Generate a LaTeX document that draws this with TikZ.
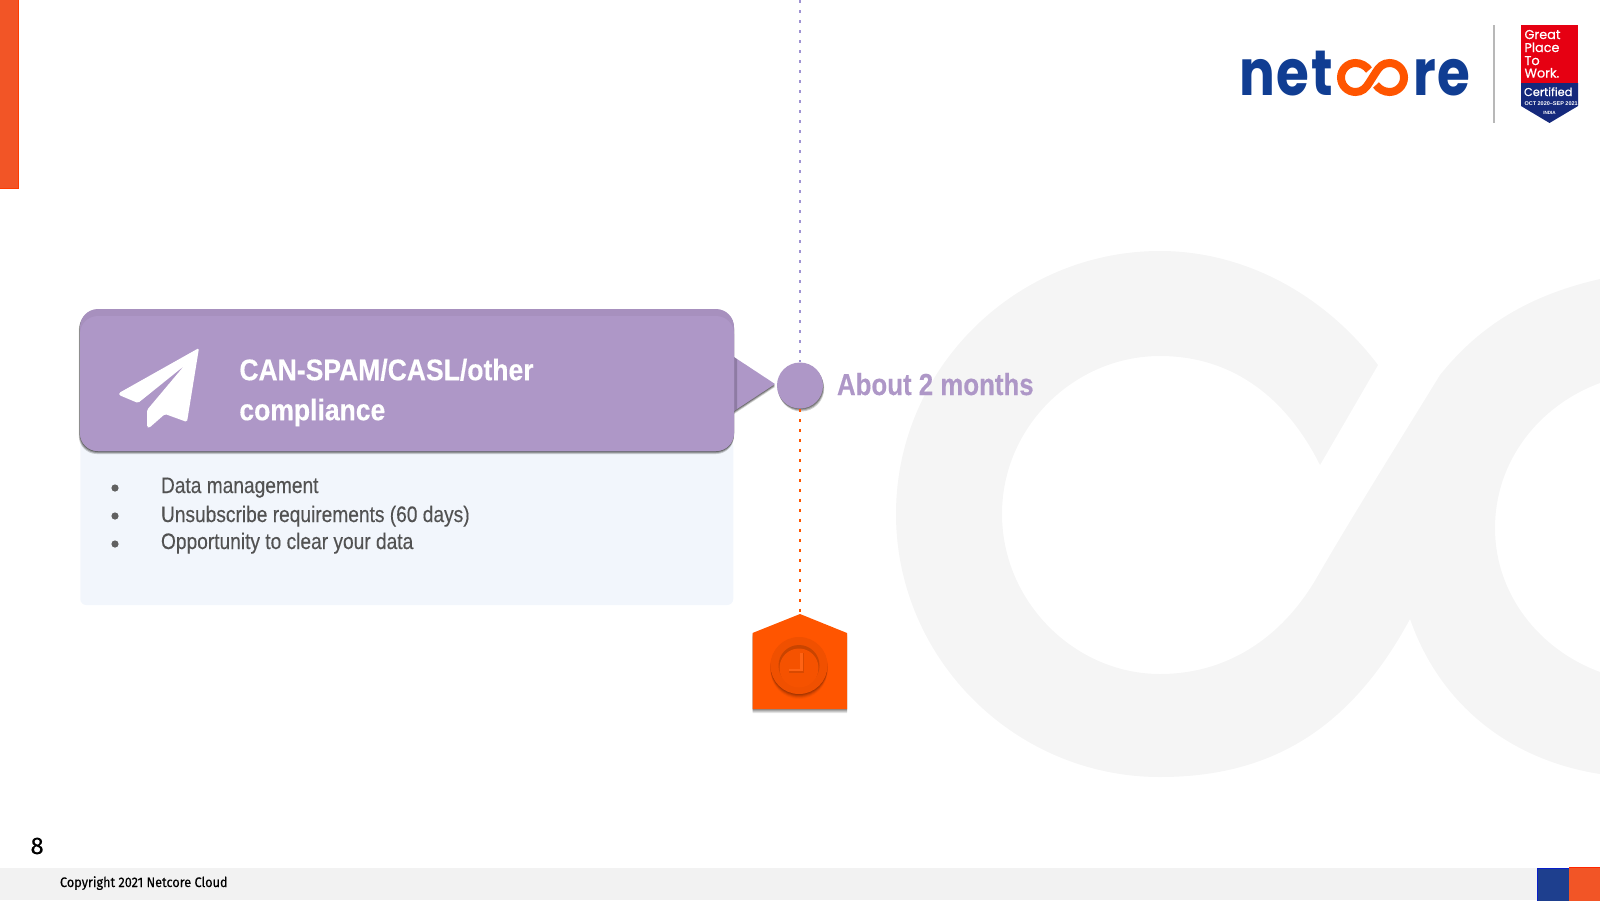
\documentclass[tikz,border=0pt]{standalone}
\usepackage{fontspec}
\setmainfont{Liberation Sans}
\newfontfamily\condf[FakeStretch=0.89,FakeBold=0.3]{Liberation Sans}
\newfontfamily\monthf[FakeStretch=0.85,FakeBold=0.3]{Liberation Sans}
\newfontfamily\bodyf[FakeStretch=0.855,FakeBold=0.3]{Liberation Sans}
\newfontfamily\logof[FakeStretch=0.83]{Poppins}
\newfontfamily\badgef[FakeBold=0.45]{Poppins}
\newfontfamily\footf[FakeStretch=0.92,FakeBold=0.25]{Fira Sans}
\newfontfamily\numf[FakeBold=0.3]{Fira Sans}
\definecolor{lilac}{HTML}{AE97C7}
\definecolor{lilacdark}{HTML}{A790BE}
\definecolor{paleblue}{HTML}{F2F6FC}
\definecolor{orangebar}{HTML}{F25526}
\definecolor{orangehot}{HTML}{FF5500}
\definecolor{orangedeep}{HTML}{C94400}
\definecolor{netblue}{HTML}{103D92}
\definecolor{cornerblue}{HTML}{1E3F8E}
\definecolor{badgered}{HTML}{E60012}
\definecolor{badgenavy}{HTML}{15297C}
\definecolor{wmgray}{HTML}{F5F5F5}
\definecolor{dotlilac}{HTML}{9F92D2}
\tikzset{
  txt/.style={inner sep=0pt,outer sep=0pt,anchor=base west},
  bodytxt/.style={txt,text=black!68,font=\bodyf\fontsize{11.2}{13}\selectfont},
  bulletdot/.style={circle,fill=black!62,minimum size=3.6pt,inner sep=0pt},
  dotline/.style={line width=1.3pt,dash pattern=on 1.3pt off 3.7pt},
  badgetxt/.style={txt,text=white,font=\badgef\fontsize{6.4}{7}\selectfont},
  logotxt/.style={txt,text=netblue,font=\logof\bfseries\fontsize{32}{34}\selectfont\addfontfeature{LetterSpace=3}},
  headbox/.style={rounded corners=9pt,minimum width=327pt,minimum height=71pt,inner sep=0pt},
}
\begin{document}
\begin{tikzpicture}[x=0.5pt,y=-0.5pt]
\useasboundingbox (0,0) rectangle (1600,900);
% watermark
\fill[wmgray] (1378,365) .. controls (1325,295) and (1245,251) .. (1160,251)
  .. controls (1015,251) and (896,369) .. (896,514)
  .. controls (896,659) and (1015,777) .. (1160,777)
  .. controls (1270,777) and (1350,730) .. (1410,619)
  .. controls (1440,705) and (1510,760) .. (1600,774)
  -- (1600,672) .. controls (1540,650) and (1495,595) .. (1495,528)
  .. controls (1495,460) and (1540,405) .. (1600,383)
  -- (1600,279) .. controls (1530,295) and (1480,325) .. (1440,375)
  .. controls (1400,440) and (1350,520) .. (1316,579)
  .. controls (1280,640) and (1225,674) .. (1160,674)
  .. controls (1075,674) and (1002,602) .. (1002,514)
  .. controls (1002,426) and (1075,356) .. (1160,356)
  .. controls (1230,356) and (1285,395) .. (1320,465) -- cycle;
% left bar
\fill[orangebar,draw=orangehot!70!red,line width=.5pt] (-2,-2) rectangle (18.5,188.5);
% footer
\fill[black!5] (0,868) rectangle (1600,900);
\fill[cornerblue,draw=blue!50!netblue,line width=.5pt] (1537.5,868) rectangle (1569,902);
\fill[orangebar] (1569,867) rectangle (1602,902);
\draw[red!70!orange,line width=.5pt] (1569,867) -- (1600,867);
\node[txt,font=\numf\fontsize{12}{13}\selectfont] (pagenum) at (30.5,854) {8};
\node[txt,font=\footf\fontsize{6.9}{8}\selectfont] (copy) at (60,887) {Copyright 2021 Netcore Cloud};
% pale panel
\node[fill=paleblue,rounded corners=3pt,minimum width=326.5pt,minimum height=82.5pt,inner sep=0pt] (panel) at (406.75,522.5) {};
% shadows of header
\foreach \i/\o in {3/.18,2/.24,1/.3}{
  \fill[black,opacity=\o,rounded corners=9pt] (80-\i*.4,309+\i) rectangle (734,451+\i);
  \fill[black,opacity=\o] (734,357+\i) -- (775,384+\i) -- (734,411+\i) -- cycle;
}
% connectors + circle
\coordinate (dottop) at (800,0);
\coordinate (apex) at (800,614);
\foreach \i/\o in {3/.18,2/.22,1/.28}{
  \fill[black,opacity=\o] (800+\i*.4,385.5+\i) circle[radius=23];
}
\node[circle,minimum size=23pt,inner sep=0pt] (dot) at (800,385.5) {};
\draw[dotline,color=dotlilac] (dottop) -- (dot.north);
\draw[dotline,color=orangehot] (dot.south) -- (apex);
% triangle
\fill[lilac] (734,357) -- (775,384) -- (734,411) -- cycle;
\fill[black,opacity=.18] (734,357) -- (737,359) -- (737,409) -- (734,411) -- cycle;
\node[circle,fill=lilac,minimum size=23pt,inner sep=0pt] at (800,385.5) {};
% header
\node[headbox,fill=lilacdark] (head) at (407,380) {};
\fill[lilac,rounded corners=9pt] (80,316) rectangle (734,451);
% plane
\fill[white,rounded corners=.8pt] (199,348) -- (119,393) -- (119,395) -- (138,403) -- (184,366) -- (147,410) -- (147,427) -- (149,428) -- (165,414) -- (187,422) -- cycle;
% title
\node[anchor=west,inner sep=0pt,text=white,align=left,font=\condf\bfseries\fontsize{14.9}{20}\selectfont] (title) at (239,392.5) {CAN-SPAM/CASL/other\\compliance};
% bullets
\node[bulletdot] (b1) at (115,488) {};
\node[bulletdot] (b2) at (115,516) {};
\node[bulletdot] (b3) at (115,544) {};
\node[bodytxt] (t1) at (161,493) {Data management};
\node[bodytxt] (t2) at (161,522) {Unsubscribe requirements (60 days)};
\node[bodytxt] (t3) at (161,549) {Opportunity to clear your data};
% months
\node[txt,text=lilac,font=\monthf\bfseries\fontsize{15.2}{18}\selectfont] (months) at (837,395) {About 2 months};
% pentagon
\foreach \i/\o in {4/.1,3/.12,2/.14,1/.2}{
  \fill[black,opacity=\o] (752.5,633+\i) -- (800,614+\i) -- (847,633+\i) -- (847,709+\i) -- (752.5,709+\i) -- cycle;
}
\fill[orangehot] (752.5,633) -- (800,614) -- (847,633) -- (847,709) -- (752.5,709) -- cycle;
% clock
\foreach \i/\o in {5/.03,4/.05,3/.08,2/.1,1/.12}{
  \fill[black,opacity=\o] (799,665.5+\i) circle[radius=28.5];
}
\fill[orangehot!94!black] (799,665.5) circle[radius=28.5];
\fill[orangedeep] (799,665.5) circle[radius=20.5];
\fill[orangehot!96!black] (799,668) circle[radius=19.5];
\draw[orangedeep!70!orangehot,line width=1.4pt] (803,653) -- (803,671.5) -- (789,671.5);
\draw[orangehot!92!white,line width=1.3pt] (801.5,653) -- (801.5,670) -- (789,670);
% logo
\node[logotxt] (net) at (1239,95) {net};
\node[logotxt] (re) at (1413,95) {re};
\draw[orangehot,line width=4pt] (1369,70) .. controls (1366,66) and (1361,63) .. (1355.5,63)
  .. controls (1347.5,63) and (1341,69.5) .. (1341,77.5)
  .. controls (1341,85.5) and (1347.5,92) .. (1355.5,92)
  .. controls (1362,92) and (1366,88) .. (1369,83)
  -- (1376,72) .. controls (1379,67) and (1383,63) .. (1389.5,63)
  .. controls (1397.5,63) and (1404,69.5) .. (1404,77.5)
  .. controls (1404,85.5) and (1397.5,92) .. (1389.5,92)
  .. controls (1384,92) and (1379,89) .. (1376,85);
% divider
\draw[black!28,line width=.9pt] (1494,25) -- (1494,123);
% badge
\fill[badgenavy] (1521,83) -- (1578,83) -- (1578,106) -- (1549.5,123) -- (1521,106) -- cycle;
\fill[badgered] (1521,25) rectangle (1578,83);
\node[badgetxt] (g1) at (1524.5,39) {Great};
\node[badgetxt] (g2) at (1524.5,52) {Place};
\node[badgetxt] (g3) at (1524.5,65) {To};
\node[badgetxt] (g4) at (1524.5,77.5) {Work.};
\node[badgetxt,font=\badgef\fontsize{5.7}{7}\selectfont] (g5) at (1524,96) {Certified};
\node[txt,text=white,font=\fontsize{2.75}{3}\selectfont\bfseries] (g6) at (1524.5,105.5) {OCT 2020–SEP 2021};
\node[txt,anchor=base,text=white,font=\fontsize{2.3}{3}\selectfont\bfseries] (g7) at (1549.5,114) {INDIA};
\end{tikzpicture}
\end{document}
